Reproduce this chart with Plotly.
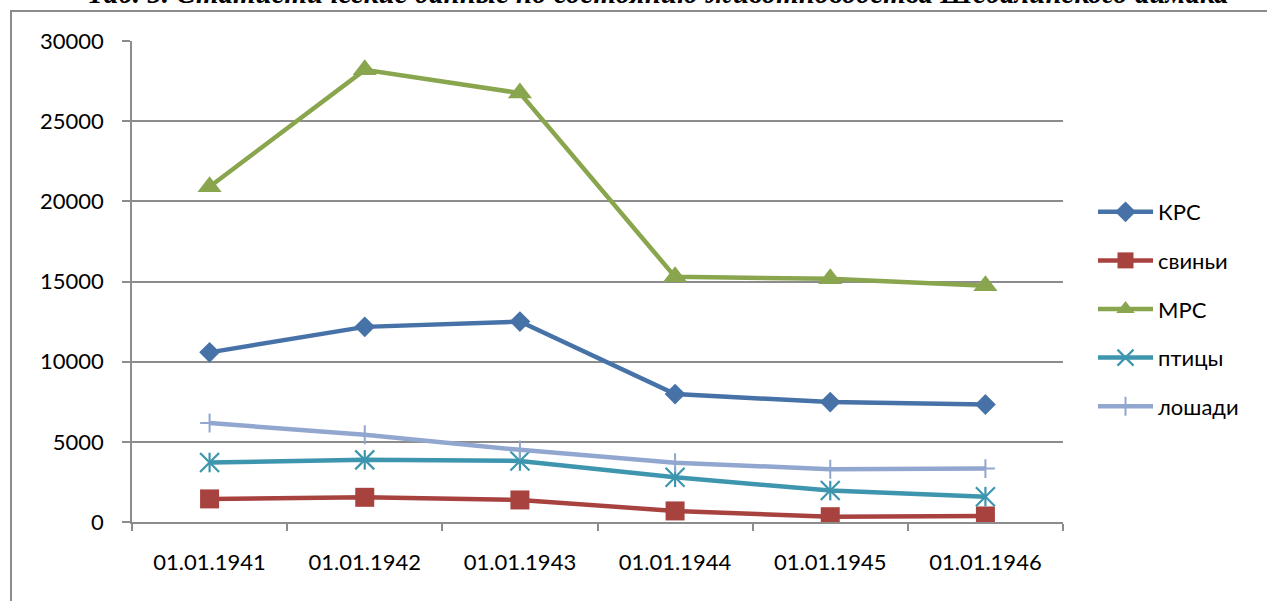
import plotly.graph_objects as go

categories = ["01.01.1941", "01.01.1942", "01.01.1943", "01.01.1944", "01.01.1945", "01.01.1946"]
krs = [10580, 12170, 12500, 7980, 7480, 7330]
svini = [1440, 1540, 1375, 690, 330, 375]
mrs = [20910, 28200, 26750, 15290, 15170, 14730]
ptitsy = [3710, 3875, 3810, 2790, 1960, 1580]
loshadi = [6170, 5440, 4500, 3700, 3290, 3330]
y_ticks = [0, 5000, 10000, 15000, 20000, 25000, 30000]
y_tick_labels = ["0", "5000", "10000", "15000", "20000", "25000", "30000"]
title_text = "Таб. 5. Статистические данные по состоянию животноводства Шебалинского аймака"

C_KRS = "#4672A8"
C_SV = "#A8423F"
C_MRS = "#89A54E"
C_PT = "#3D96AE"
C_LO = "#91A7CF"
GRID = "#8c8c8c"

fig = go.Figure()
fig.add_trace(go.Scatter(x=categories, y=krs, name="КРС", mode="lines+markers", legendgroup="a",
                         line=dict(color=C_KRS, width=4.5),
                         marker=dict(symbol="diamond", size=16, color=C_KRS)))
fig.add_trace(go.Scatter(x=categories, y=svini, name="свиньи", mode="lines+markers", legendgroup="b",
                         line=dict(color=C_SV, width=4.5),
                         marker=dict(symbol="square", size=19, color=C_SV)))
fig.add_trace(go.Scatter(x=categories, y=mrs, name="МРС", mode="lines+markers", legendgroup="c",
                         line=dict(color=C_MRS, width=4.5),
                         marker=dict(symbol="triangle-up", size=21, color=C_MRS)))
fig.add_trace(go.Scatter(x=categories, y=ptitsy, name="птицы", mode="lines+markers", legendgroup="d",
                         line=dict(color=C_PT, width=4.5),
                         marker=dict(symbol="x-thin-open", size=19, color=C_PT,
                                     line=dict(color=C_PT, width=2.2))))
fig.add_trace(go.Scatter(x=categories, y=ptitsy, name="птицы", mode="markers", legendgroup="d",
                         showlegend=False, hoverinfo="skip",
                         marker=dict(symbol="line-ns-open", size=14, color=C_PT,
                                     line=dict(color=C_PT, width=2.2))))
fig.add_trace(go.Scatter(x=categories, y=loshadi, name="лошади", mode="lines+markers", legendgroup="e",
                         line=dict(color=C_LO, width=4.5),
                         marker=dict(symbol="cross-thin-open", size=13.5, color=C_LO,
                                     line=dict(color=C_LO, width=2))))

L, R, T, B = 132, 1063, 41, 522
W, H = 1267, 601

def px_x(p):
    return (p - L) / (R - L)

def px_y(p):
    return (B - p) / (B - T)

fig.update_layout(
    width=W, height=H,
    margin=dict(l=L, r=W - R, t=T, b=H - B, pad=0),
    paper_bgcolor="white", plot_bgcolor="white",
    font=dict(family="Lato", size=22, color="black"),
    showlegend=True,
    legend=dict(x=px_x(1093), xanchor="left", y=px_y(191), yanchor="top",
                font=dict(size=22, family="Lato"), tracegroupgap=17, itemwidth=55,
                bgcolor="rgba(0,0,0,0)", borderwidth=0),
    xaxis=dict(type="category", range=[-0.5, 5.5], showgrid=False, showline=True,
               linecolor=GRID, linewidth=1.5, ticks="outside", ticklen=7, tickcolor=GRID,
               tickwidth=1.5, tickson="boundaries", ticklabelstandoff=20,
               tickfont=dict(size=22, family="Lato"), zeroline=False, fixedrange=True),
    yaxis=dict(range=[0, 30000], tickvals=y_ticks, ticktext=y_tick_labels,
               showgrid=True, gridcolor=GRID, gridwidth=1.5,
               showline=True, linecolor=GRID, linewidth=1.5, ticks="outside", ticklen=8,
               tickcolor=GRID, tickwidth=1.5, zeroline=False, ticklabelstandoff=14,
               tickfont=dict(size=22, family="Lato"), fixedrange=True),
    shapes=[dict(type="rect", xref="paper", yref="paper",
                 x0=px_x(11), x1=px_x(1300), y0=px_y(640), y1=px_y(11),
                 line=dict(color=GRID, width=2), fillcolor="rgba(0,0,0,0)", layer="above")],
    annotations=[dict(text="<b><i>" + title_text + "</i></b>", xref="paper", yref="paper",
                      x=px_x(657), y=px_y(-7), xanchor="center", yanchor="middle",
                      showarrow=False, font=dict(family="Liberation Serif", size=29, color="black"))],
)

fig.write_html("out.html", config={"displayModeBar": False},
               post_script="document.body.style.margin='0';document.body.style.padding='0';"
                           "document.body.style.overflow='hidden';")
